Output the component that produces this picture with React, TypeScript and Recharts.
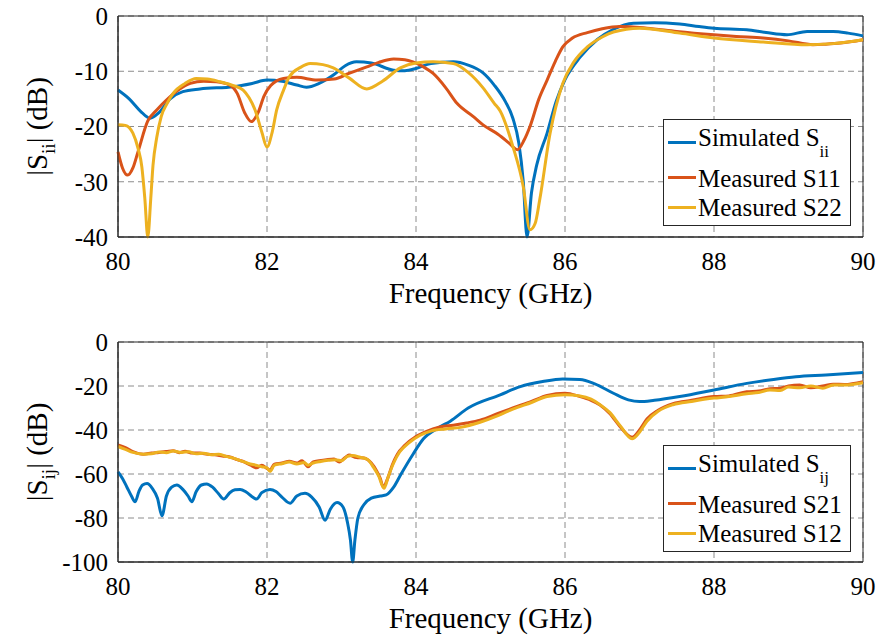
import React from "react";
import { LineChart, Line, XAxis, YAxis, CartesianGrid, ReferenceArea } from "recharts";

// [frequency GHz, dB]
const simSii: number[][] = [
  [80.0, -13.4], [80.15, -15.0], [80.3, -17.2], [80.43, -18.5], [80.55, -17.5], [80.7, -15.0],
  [80.87, -13.7], [81.1, -13.2], [81.55, -12.8], [81.8, -12.2], [82.0, -11.6], [82.2, -11.8],
  [82.4, -12.5], [82.53, -12.9], [82.7, -12.2], [82.9, -10.6], [83.05, -9.0], [83.2, -8.3],
  [83.4, -8.5], [83.7, -9.8], [83.85, -9.9], [84.0, -9.5], [84.2, -8.6], [84.5, -8.3],
  [84.7, -8.9], [84.9, -10.3], [85.05, -12.5], [85.2, -15.5], [85.3, -18.5], [85.38, -23],
  [85.44, -30], [85.49, -40], [85.55, -32], [85.62, -27], [85.76, -21.2], [85.88, -15.5],
  [86.0, -11.5], [86.2, -7.5], [86.43, -4.3], [86.65, -2.4], [86.92, -1.3], [87.2, -1.2],
  [87.54, -1.45], [87.8, -1.9], [88.0, -2.2], [88.44, -2.5], [88.7, -3.0], [88.98, -3.4],
  [89.25, -2.8], [89.6, -2.8], [89.8, -3.1], [90.0, -3.6],
];

const measS11: number[][] = [
  [80.0, -24.6], [80.06, -27.5], [80.13, -28.8], [80.2, -27.5], [80.27, -24.5], [80.4, -19.0],
  [80.52, -17], [80.65, -15.2], [80.8, -13.5], [80.97, -12.2], [81.15, -11.8], [81.32, -11.9],
  [81.5, -12.5], [81.6, -14], [81.7, -17.5], [81.79, -19.1], [81.88, -17.5], [81.96, -14.5],
  [82.05, -12.6], [82.22, -11.3], [82.4, -11.1], [82.67, -11.6], [82.9, -11.4], [83.1, -10.4],
  [83.34, -9.2], [83.5, -8.4], [83.7, -7.8], [83.85, -7.9], [83.96, -8.3], [84.1, -9.2],
  [84.23, -10.4], [84.4, -13], [84.55, -15.8], [84.77, -18.2], [84.9, -19.7], [85.1, -21.4],
  [85.25, -23], [85.36, -24.2], [85.45, -22.5], [85.53, -20], [85.65, -15], [85.76, -11.6],
  [85.87, -8.2], [85.97, -5.6], [86.1, -4.0], [86.3, -3.0], [86.5, -2.3], [86.74, -1.9],
  [87.1, -2.2], [87.5, -2.8], [88.0, -3.4], [88.3, -3.7], [88.66, -4.0], [89.0, -4.5],
  [89.33, -5.2], [89.5, -5.1], [89.7, -4.9], [90.0, -4.3],
];

const measS22: number[][] = [
  [80.0, -19.7], [80.1, -19.8], [80.2, -21.2], [80.27, -24], [80.32, -27.3], [80.36, -33],
  [80.4, -40], [80.44, -33], [80.47, -27], [80.52, -22], [80.58, -18.2], [80.66, -15.8],
  [80.74, -14], [80.9, -12.2], [81.05, -11.3], [81.2, -11.4], [81.37, -11.9], [81.55, -12.6],
  [81.68, -13.4], [81.76, -14.8], [81.84, -17], [81.93, -21], [82.0, -23.7], [82.07, -21],
  [82.13, -17], [82.22, -13.5], [82.3, -11], [82.45, -9.3], [82.58, -8.6], [82.75, -8.8],
  [82.89, -9.4], [83.1, -11.2], [83.34, -13.2], [83.55, -11.8], [83.79, -9.4], [84.0, -8.5],
  [84.23, -8.3], [84.5, -8.6], [84.7, -10.2], [84.9, -13], [85.05, -15.8], [85.13, -17.2],
  [85.3, -23.6], [85.44, -30.9], [85.53, -38.7], [85.6, -37.5], [85.66, -33.3], [85.8, -21.2],
  [85.97, -12.2], [86.12, -8.3], [86.3, -5.6], [86.5, -3.8], [86.65, -2.9], [87.0, -2.2],
  [87.54, -3.1], [88.0, -4.0], [88.66, -4.7], [89.25, -5.2], [89.6, -5.0], [90.0, -4.3],
];

const simSij: number[][] = [
  [80.0, -59], [80.06, -62], [80.12, -66], [80.18, -70], [80.23, -72.6], [80.28, -68],
  [80.33, -65], [80.39, -64.3], [80.46, -66.5], [80.53, -71], [80.59, -79], [80.65, -70],
  [80.72, -66], [80.79, -65], [80.87, -67], [80.94, -70], [80.99, -72.6], [81.05, -68],
  [81.12, -65], [81.19, -64.5], [81.27, -66], [81.35, -69], [81.42, -71.4], [81.5, -68.5],
  [81.57, -67.2], [81.64, -67], [81.72, -68.2], [81.8, -70.3], [81.86, -71.4], [81.93, -68.5],
  [82.04, -67], [82.12, -68], [82.2, -70.5], [82.31, -73.3], [82.4, -70], [82.51, -68.8],
  [82.6, -70.5], [82.7, -75], [82.78, -81], [82.85, -76], [82.94, -73], [83.02, -75],
  [83.08, -82], [83.12, -90], [83.15, -100], [83.18, -90], [83.22, -80], [83.3, -74],
  [83.4, -71], [83.52, -70], [83.6, -69.5], [83.7, -66], [83.8, -60], [83.96, -51],
  [84.1, -44], [84.3, -39], [84.46, -36], [84.7, -30], [85.13, -24], [85.4, -20.3],
  [85.7, -18], [85.97, -16.8], [86.2, -17], [86.4, -19], [86.65, -23.3], [86.85, -26.3],
  [87.0, -27.1], [87.2, -26.5], [87.54, -24.8], [88.0, -21.8], [88.44, -18.8], [88.8, -17],
  [89.1, -15.8], [89.5, -15], [90.0, -13.9],
];

const measS21: number[][] = [
  [80.0, -46.8], [80.1, -48], [80.2, -49.8], [80.34, -51], [80.45, -50.5], [80.55, -50.2],
  [80.65, -49.8], [80.74, -49.4], [80.82, -50.3], [80.9, -49.7], [81.0, -50.5], [81.1, -50.5],
  [81.2, -51], [81.3, -51.2], [81.4, -51.8], [81.5, -52.3], [81.6, -53.5], [81.7, -54.6],
  [81.78, -56], [81.86, -57.2], [81.93, -56], [82.0, -57.5], [82.04, -58.2], [82.1, -55.5],
  [82.2, -55], [82.3, -54.2], [82.4, -55], [82.47, -54], [82.55, -56.7], [82.62, -54.5],
  [82.7, -54], [82.8, -53.5], [82.9, -53.2], [82.97, -54.5], [83.05, -52.5], [83.1, -51.4],
  [83.2, -52.5], [83.3, -52.7], [83.4, -55], [83.47, -58.5], [83.52, -62], [83.56, -65.8],
  [83.62, -62], [83.68, -56], [83.75, -51], [83.85, -47], [84.0, -43], [84.15, -40.5],
  [84.32, -38.6], [84.5, -37.8], [84.68, -36.8], [84.86, -35.5], [85.1, -32.5], [85.3, -30],
  [85.55, -27], [85.76, -24.3], [86.0, -23.3], [86.2, -24.8], [86.35, -26.5], [86.47, -28.6],
  [86.6, -32.5], [86.74, -38.5], [86.9, -43.3], [87.0, -40], [87.1, -35], [87.25, -31],
  [87.45, -28], [87.7, -26.5], [88.0, -24.8], [88.2, -24.5], [88.44, -22.6], [88.6, -22.3],
  [88.75, -21.2], [88.89, -21], [89.0, -20], [89.15, -19.5], [89.3, -20.8], [89.46, -20],
  [89.6, -19.2], [89.75, -19.3], [90.0, -18],
];

const measS12: number[][] = [
  [80.0, -47.5], [80.1, -48.8], [80.2, -50.2], [80.34, -51], [80.45, -50.8], [80.55, -50],
  [80.65, -50.3], [80.74, -49.6], [80.85, -50.2], [80.95, -49.9], [81.05, -50.8], [81.15, -50.6],
  [81.25, -51.2], [81.35, -51], [81.45, -52], [81.55, -52.8], [81.65, -54], [81.75, -55.2],
  [81.85, -56], [81.93, -56.7], [82.0, -57.2], [82.04, -58.8], [82.1, -56], [82.2, -55.3],
  [82.3, -54.6], [82.4, -55.4], [82.5, -54.8], [82.55, -56], [82.62, -55], [82.72, -54.3],
  [82.82, -53.8], [82.92, -53.5], [83.0, -54], [83.08, -52], [83.15, -51.6], [83.25, -52.4],
  [83.35, -53.4], [83.43, -57], [83.5, -61], [83.57, -66.5], [83.63, -61], [83.7, -55],
  [83.78, -50], [83.9, -46], [84.05, -42.5], [84.2, -40.5], [84.4, -39.5], [84.6, -38.8],
  [84.86, -36.5], [85.1, -33.5], [85.3, -30.5], [85.55, -27.5], [85.76, -24.8], [86.0, -24],
  [86.2, -24.5], [86.35, -26], [86.47, -28.5], [86.6, -32], [86.74, -38], [86.9, -44],
  [87.0, -41], [87.1, -36], [87.25, -31.5], [87.45, -28.5], [87.7, -27], [88.0, -25.5],
  [88.2, -24.8], [88.44, -23.5], [88.6, -23], [88.75, -21.8], [88.89, -22], [89.0, -20.5],
  [89.15, -20.8], [89.3, -20], [89.46, -21], [89.6, -19.5], [89.75, -19.6], [90.0, -18.5],
];

const freqTicks = [80, 82, 84, 86, 88, 90];
const siiTicks = [-40, -30, -20, -10, 0];
const sijTicks = [-100, -80, -60, -40, -20, 0];

const BLUE = "#0072BD";
const ORANGE = "#D95319";
const YELLOW = "#EDB120";
const FONT = "Liberation Serif, Tinos, Times New Roman, DejaVu Serif, serif";
const AXIS = "#262626";

const toRows = (pts: number[][]) => pts.map(([f, db]) => ({ f, db }));

function YTitle(props: any) {
  const vb = props.viewBox || { x: 0, y: 0, width: 0, height: 0 };
  const cx = vb.x + 47;
  const cy = vb.y + vb.height / 2;
  return (
    <text
      x={cx}
      y={cy}
      transform={`rotate(-90, ${cx}, ${cy})`}
      textAnchor="middle"
      style={{ fontFamily: FONT, fontSize: 29 }}
      fill="#000"
    >
      <tspan>|S</tspan>
      <tspan dy={8} style={{ fontSize: 19 }}>{props.sub}</tspan>
      <tspan dy={-8}>| (dB)</tspan>
    </text>
  );
}

function XTitle(props: any) {
  const vb = props.viewBox || { x: 0, y: 0, width: 0, height: 0 };
  return (
    <text
      x={vb.x + vb.width / 2}
      y={vb.y + props.dy}
      textAnchor="middle"
      style={{ fontFamily: FONT, fontSize: 29 }}
      fill="#000"
    >
      Frequency (GHz)
    </text>
  );
}

interface PanelProps {
  series: { data: number[][]; color: string; name: string }[];
  yTicks: number[];
  sub: string;
  top: number;
  xHeight: number;
  labelDy: number;
}

function Panel({ series, yTicks, sub, top, xHeight, labelDy }: PanelProps) {
  const yMin = yTicks[0];
  const yMax = yTicks[yTicks.length - 1];
  const tickStyle = { fontFamily: FONT, fontSize: 25, fill: "#000" };
  return (
    <LineChart
      width={880}
      height={321}
      margin={{ top, right: 17, bottom: 0, left: 0 }}
      style={{ fontFamily: FONT }}
    >
      <CartesianGrid stroke="#8c8c8c" strokeDasharray="6 4" />
      <XAxis
        type="number"
        dataKey="f"
        domain={[80, 90]}
        ticks={freqTicks}
        height={xHeight}
        stroke={AXIS}
        tickLine={false}
        tickMargin={9}
        tick={tickStyle}
        label={<XTitle dy={labelDy} />}
      />
      <YAxis
        type="number"
        domain={[yMin, yMax]}
        ticks={yTicks}
        width={118}
        stroke={AXIS}
        tickLine={false}
        tickMargin={4}
        tick={tickStyle}
        label={<YTitle sub={sub} />}
      />
      <ReferenceArea x1={80} x2={90} y1={yMin} y2={yMax} fill="none" stroke={AXIS} strokeWidth={1} />
      {series.map((s) => (
        <Line
          key={s.name}
          name={s.name}
          data={toRows(s.data)}
          dataKey="db"
          type="monotone"
          stroke={s.color}
          strokeWidth={3}
          dot={false}
          isAnimationActive={false}
        />
      ))}
    </LineChart>
  );
}

function LegendBox({ left, top, rows, sub }: { left: number; top: number; rows: { color: string; label: string }[]; sub: string }) {
  const lineY = [23, 58.5, 88.5];
  const baseY = [27, 67.5, 96.5];
  return (
    <div
      style={{
        position: "absolute",
        left,
        top,
        width: 186,
        height: 105,
        border: `1px solid ${AXIS}`,
        background: "#fff",
        fontFamily: FONT,
        fontSize: 25,
        lineHeight: "25px",
        color: "#000",
      }}
    >
      {rows.map((r, i) => (
        <React.Fragment key={r.label}>
          <div
            style={{
              position: "absolute",
              left: 4,
              top: lineY[i] - 2.5,
              width: 28,
              height: 3,
              background: r.color,
            }}
          />
          <div style={{ position: "absolute", left: 34, top: baseY[i] - 22, whiteSpace: "nowrap" }}>
            {r.label}
            {i === 0 && (
              <span style={{ fontSize: 17, position: "relative", top: 11 }}>{sub}</span>
            )}
          </div>
        </React.Fragment>
      ))}
    </div>
  );
}

export default function App() {
  return (
    <div
      style={{
        position: "absolute",
        left: 0,
        top: 0,
        width: 880,
        height: 642,
        background: "#fff",
        fontFamily: FONT,
      }}
    >
      <div style={{ position: "absolute", left: 0, top: 0 }}>
        <Panel
          series={[
            { data: simSii, color: BLUE, name: "Simulated Sii" },
            { data: measS11, color: ORANGE, name: "Measured S11" },
            { data: measS22, color: YELLOW, name: "Measured S22" },
          ]}
          yTicks={siiTicks}
          sub="ii"
          top={16}
          xHeight={84}
          labelDy={66}
        />
      </div>
      <div style={{ position: "absolute", left: 0, top: 321 }}>
        <Panel
          series={[
            { data: simSij, color: BLUE, name: "Simulated Sij" },
            { data: measS21, color: ORANGE, name: "Measured S21" },
            { data: measS12, color: YELLOW, name: "Measured S12" },
          ]}
          yTicks={sijTicks}
          sub="ij"
          top={21}
          xHeight={80}
          labelDy={66}
        />
      </div>
      <LegendBox
        left={663}
        top={119}
        sub="ii"
        rows={[
          { color: BLUE, label: "Simulated S" },
          { color: ORANGE, label: "Measured S11" },
          { color: YELLOW, label: "Measured S22" },
        ]}
      />
      <LegendBox
        left={663}
        top={445}
        sub="ij"
        rows={[
          { color: BLUE, label: "Simulated S" },
          { color: ORANGE, label: "Measured S21" },
          { color: YELLOW, label: "Measured S12" },
        ]}
      />
    </div>
  );
}
